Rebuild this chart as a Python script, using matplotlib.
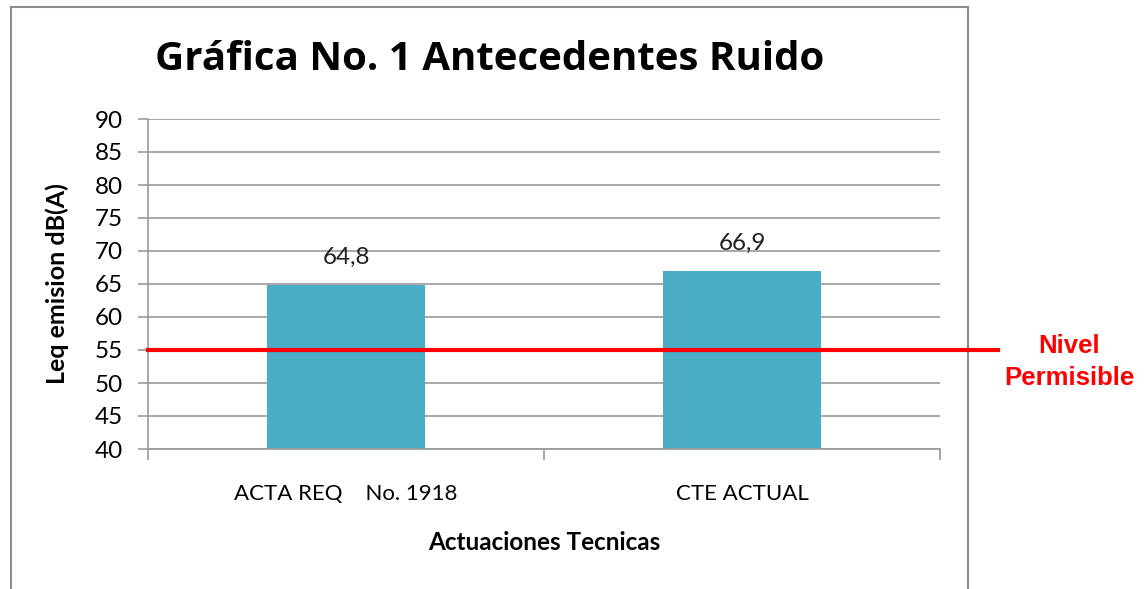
import matplotlib.pyplot as plt
from matplotlib.patches import Rectangle
from matplotlib.lines import Line2D

# Chart data
categories = ['ACTA REQ    No. 1918', 'CTE ACTUAL']
values = [64.8, 66.9]
value_labels = ['64,8', '66,9']
limit_value = 55
y_ticks = [40, 45, 50, 55, 60, 65, 70, 75, 80, 85, 90]

fig = plt.figure(figsize=(11.45, 5.89), dpi=100)
fig.patch.set_facecolor('white')

# outer chart frame (open at the bottom, cut off)
frame = Rectangle((11 / 1145, -0.05), (968 - 11) / 1145, 1.05 - 7 / 589,
                  transform=fig.transFigure, fill=False, edgecolor='#8c8c8c',
                  linewidth=1.5, zorder=0)
fig.add_artist(frame)

ax = fig.add_axes([148 / 1145, 1 - 449 / 589, (940 - 148) / 1145, (449 - 119) / 589])

x = list(range(len(categories)))
ax.bar(x, [v - 40 for v in values], bottom=40, width=0.4, color='#4BACC6', zorder=2)

for xi, v, lab in zip(x, values, value_labels):
    ax.text(xi, v + 2.6, lab, ha='center', va='bottom', fontsize=17.5,
            family='Lato', color='#222222')

ax.set_xlim(-0.5, 1.5)
ax.set_ylim(40, 90)
ax.set_yticks(y_ticks)
ax.set_yticklabels([str(t) for t in y_ticks], fontsize=17.5, family='Lato')
ax.yaxis.grid(True, color='#9a9a9a', linewidth=1.2, zorder=1)
ax.set_axisbelow(True)

# category separators as major ticks, labels on minor ticks
ax.set_xticks([-0.5, 0.5, 1.5])
ax.set_xticklabels(['', '', ''])
ax.set_xticks(x, minor=True)
ax.set_xticklabels(categories, minor=True, fontsize=16, family='Lato')
ax.tick_params(axis='x', which='minor', length=0, pad=25)
ax.tick_params(axis='x', which='major', length=8, width=1.2, color='#9a9a9a')
ax.tick_params(axis='y', length=7.2, width=1.2, color='#9a9a9a', pad=11)

for side in ['top', 'right']:
    ax.spines[side].set_visible(False)
for side in ['left', 'bottom']:
    ax.spines[side].set_color('#9a9a9a')
    ax.spines[side].set_linewidth(1.2)

ax.set_xlabel('Actuaciones Tecnicas', fontsize=17.5, fontweight='bold',
              family='Lato', labelpad=20)
ax.set_ylabel('Leq emision dB(A)', fontsize=18, fontweight='bold',
              family='Lato', labelpad=18)

# permissible level line, extending past the frame
ax.add_line(Line2D([-0.5, 1.5 + (998 - 940) / 396], [limit_value, limit_value],
                   color='#ff0000', linewidth=3, clip_on=False, zorder=3))
fig.text(1069 / 1145, 1 - 362 / 589, 'Nivel\nPermisible', color='#ff0000',
         fontsize=18.5, fontweight='bold', family='Liberation Sans',
         ha='center', va='center', linespacing=1.45)

fig.text(490 / 1145, 1 - 60 / 589, 'Gráfica No. 1 Antecedentes Ruido',
         fontsize=29, fontweight='bold', family='Open Sans',
         ha='center', va='center')

plt.savefig('out.png', dpi=100)
plt.close()
